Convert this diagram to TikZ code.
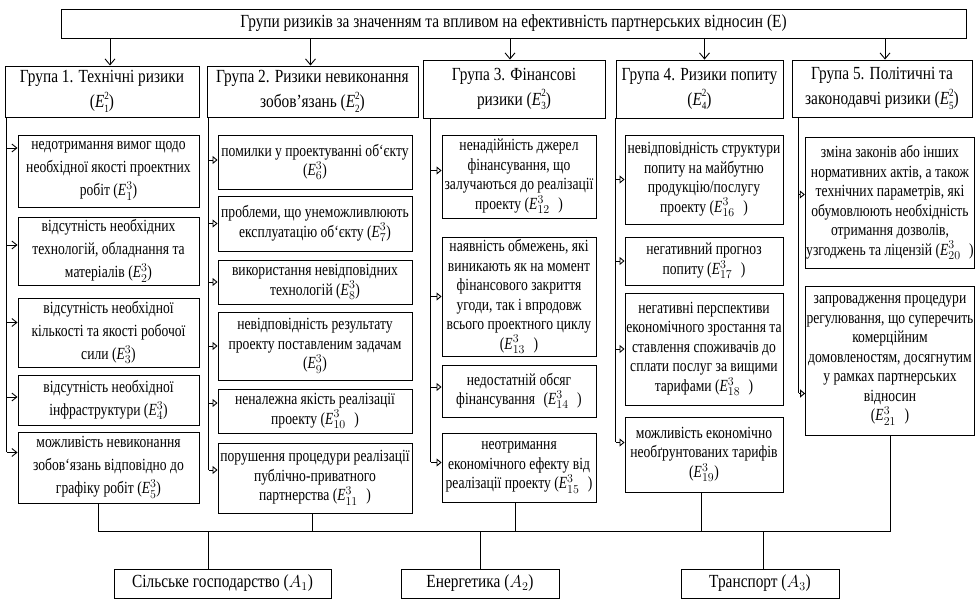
\documentclass[tikz,border=0pt]{standalone}
\usepackage{fontspec}
\setmainfont{Liberation Serif}
\newfontfamily\hdf{Liberation Serif}[FakeStretch=0.83]
\newfontfamily\bdf{Liberation Serif}[FakeStretch=0.80]
\usetikzlibrary{arrows.meta}
\newcommand{\Ee}[2]{\textit{E}$^{#1}_{#2}$}
\newcommand{\Eh}[2]{\textit{E}\rlap{\raisebox{8.5pt}{\fontsize{11}{11}\selectfont #1}}\raisebox{-4.5pt}{\fontsize{11}{11}\selectfont #2}}
\newcommand{\mkbox}[7]{%
  \pgfmathsetmacro{\pcx}{(#3+#5)/2}\pgfmathsetmacro{\pcy}{(#4+#6)/2}%
  \pgfmathsetmacro{\pw}{#5-#3}\pgfmathsetmacro{\ph}{#6-#4}%
  \node[#1, minimum width=\pw pt, minimum height=\ph pt] (#2) at (\pcx,\pcy) {#7};}
\tikzset{
  ln/.style={line width=0.9pt},
  hd/.style={draw, ln, inner sep=1pt, align=center, font=\hdf\fontsize{18.5}{25}\selectfont},
  bxa/.style={draw, ln, inner sep=1pt, align=center, font=\bdf\fontsize{17}{23}\selectfont},
  bx/.style={draw, ln, inner sep=1pt, align=center, font=\bdf\fontsize{17}{19.5}\selectfont},
  arrd/.style={ln, -{Straight Barb[length=6pt,width=10pt]}},
  arrs/.style={ln, -{Straight Barb[length=5pt,width=8pt]}},
  arrt/.style={ln, -{Triangle[open,length=5pt,width=8pt]}},
}
\begin{document}
\begin{tikzpicture}[x=1pt,y=-1pt]
\useasboundingbox (0,0) rectangle (975,601);
\fill[white] (0,0) rectangle (975,601);
% title
\mkbox{hd}{T}{61}{9}{966}{38}{Групи ризиків за значенням та впливом на ефективність партнерських відносин (Е)}
% group headers
\mkbox{hd}{h1}{5}{66}{199}{117}{Група 1. Технічні ризики\\(\Eh{2}{1})}
\mkbox{hd}{h2}{207}{66}{418}{117}{Група 2. Ризики невиконання\\зобов’язань (\Eh{2}{2})}
\mkbox{hd}{h3}{423}{60}{605}{118}{Група 3. Фінансові\\ризики (\Eh{2}{3})}
\mkbox{hd}{h4}{616}{60}{783}{118}{Група 4. Ризики попиту\\(\Eh{2}{4})}
\mkbox{hd}{h5}{792}{60}{972}{117}{Група 5. Політичні та\\законодавчі ризики (\Eh{2}{5})}
% group 1
\mkbox{bxa}{b1}{18}{135}{199}{207}{недотримання вимог щодо\\необхідної якості проектних\\робіт (\Ee{3}{1})}
\mkbox{bxa}{b2}{18}{217}{199}{285}{відсутність необхідних\\технологій, обладнання та\\матеріалів (\Ee{3}{2})}
\mkbox{bxa}{b3}{18}{298}{199}{367}{відсутність необхідної\\кількості та якості робочої\\сили (\Ee{3}{3})}
\mkbox{bxa}{b4}{18}{375}{199}{425}{відсутність необхідної\\інфраструктури (\Ee{3}{4})}
\mkbox{bxa}{b5}{18}{432}{199}{503}{можливість невиконання\\зобов‘язань відповідно до\\графіку робіт (\Ee{3}{5})}
% group 2
\mkbox{bx}{c1}{218}{135}{412}{189}{помилки у проектуванні об‘єкту\\(\Ee{3}{6})}
\mkbox{bx}{c2}{218}{196}{412}{251}{проблеми, що унеможливлюють\\експлуатацію об‘єкту (\Ee{3}{7})}
\mkbox{bx}{c3}{218}{260}{412}{304}{використання невідповідних\\технологій (\Ee{3}{8})}
\mkbox{bx}{c4}{218}{312}{412}{380}{невідповідність результату\\проекту поставленим задачам\\(\Ee{3}{9})}
\mkbox{bx}{c5}{218}{389}{412}{433}{неналежна якість реалізації\\проекту (\Ee{3}{10}\enspace)}
\mkbox{bx}{c6}{218}{443}{412}{513}{порушення процедури реалізації\\публічно-приватного\\партнерства (\Ee{3}{11}\enspace)}
% group 3
\mkbox{bx}{d1}{442}{135}{596}{218}{ненадійність джерел\\фінансування, що\\залучаються до реалізації\\проекту (\Ee{3}{12}\enspace)}
\mkbox{bx}{d2}{442}{237}{596}{356}{наявність обмежень, які\\виникають як на момент\\фінансового закриття\\угоди, так і впродовж\\всього проектного циклу\\(\Ee{3}{13}\enspace)}
\mkbox{bx}{d3}{442}{365}{596}{417}{недостатній обсяг\\фінансування\enspace(\Ee{3}{14}\enspace)}
\mkbox{bx}{d4}{442}{433}{596}{502}{неотримання\\економічного ефекту від\\реалізації проекту (\Ee{3}{15}\enspace)}
% group 4
\mkbox{bx}{f1}{625}{135}{783}{224}{невідповідність структури\\попиту на майбутню\\продукцію/послугу\\проекту (\Ee{3}{16}\enspace)}
\mkbox{bx}{f2}{625}{237}{783}{285}{негативний прогноз\\попиту (\Ee{3}{17}\enspace)}
\mkbox{bx}{f3}{625}{293}{783}{405}{негативні перспективи\\економічного зростання та\\ставлення споживачів до\\сплати послуг за вищими\\тарифами (\Ee{3}{18}\enspace)}
\mkbox{bx}{f4}{625}{417}{783}{492}{можливість економічно\\необґрунтованих тарифів\\(\Ee{3}{19})}
% group 5
\mkbox{bx}{g1}{808}{137}{972}{268}{зміна законів або інших\\нормативних актів, а також\\технічних параметрів, які\\обумовлюють необхідність\\отримання дозволів,\\узгоджень та ліцензій (\Ee{3}{20}\enspace)}
\mkbox{bx}{g2}{808}{286}{972}{435}{запровадження процедури\\регулювання, що суперечить\\комерційним\\домовленостям, досягнутим\\у рамках партнерських\\відносин\\(\Ee{3}{21}\enspace)}
% bottom
\mkbox{hd}{a1}{114}{569}{331}{598}{Сільське господарство ($A_1$)}
\mkbox{hd}{a2}{401}{569}{559}{598}{Енергетика ($A_2$)}
\mkbox{hd}{a3}{681}{569}{839}{598}{Транспорт ($A_3$)}
% top arrows
\foreach \n/\s in {h1/8,h2/-2,h3/-4,h4/5,h5/3}{
  \coordinate (\n-t) at ([xshift=\s pt]\n.north);
  \draw[arrd] (T.south -| \n-t) -- (\n-t);
}
% group verticals
\coordinate (v1) at ([xshift=2pt]h1.south west);
\coordinate (v2) at ([xshift=2pt]h2.south west);
\coordinate (v3) at ([xshift=8pt]h3.south west);
\coordinate (v4) at (h4.south west);
\coordinate (v5) at ([xshift=7pt]h5.south west);
\foreach \n/\s in {b1/23,b2/6,b3/10,b4/3,b5/15}{
  \coordinate (\n-a) at ([yshift=\s pt]\n.west);
  \draw[arrs] (v1 |- \n-a) -- (\n-a);
}
\draw[ln] (v1) -- (v1 |- b5-a);
\foreach \n/\s in {c1/2,c2/0,c3/0,c4/0,c5/8,c6/8}{
  \coordinate (\n-a) at ([yshift=\s pt]\n.west);
  \draw[arrt] (v2 |- \n-a) -- (\n-a);
}
\draw[ln] (v2) -- (v2 |- c6-a);
\foreach \n/\s in {d1/6,d2/0,d3/4,d4/5}{
  \coordinate (\n-a) at ([yshift=\s pt]\n.west);
  \draw[arrt] (v3 |- \n-a) -- (\n-a);
}
\draw[ln] (v3) -- (v3 |- d4-a);
\foreach \n/\s in {f1/0,f2/0,f3/0,f4/12}{
  \coordinate (\n-a) at ([yshift=\s pt]\n.west);
  \draw[arrt] (v4 |- \n-a) -- (\n-a);
}
\draw[ln] (v4) -- (v4 |- f4-a);
\foreach \n/\s in {g1/8,g2/-33}{
  \coordinate (\n-a) at ([yshift=\s pt]\n.west);
  \draw[arrt] (v5 |- \n-a) -- (\n-a);
}
\draw[ln] (v5) -- (v5 |- g2-a);
% bus
\coordinate (bus) at (0,531);
\coordinate (b5-s) at ([xshift=-10pt]b5.south);
\draw[ln] (b5-s) -- (b5-s |- bus) -- (g2.south |- bus) -- (g2.south);
\foreach \n/\s in {c6/-3,d4/-4,f4/-3}{
  \coordinate (\n-s) at ([xshift=\s pt]\n.south);
  \draw[ln] (\n-s) -- (\n-s |- bus);
}
\foreach \n/\s in {a1/-14.5,a2/0,a3/3}{
  \coordinate (\n-n) at ([xshift=\s pt]\n.north);
  \draw[ln] (\n-n |- bus) -- (\n-n);
}
\end{tikzpicture}
\end{document}
